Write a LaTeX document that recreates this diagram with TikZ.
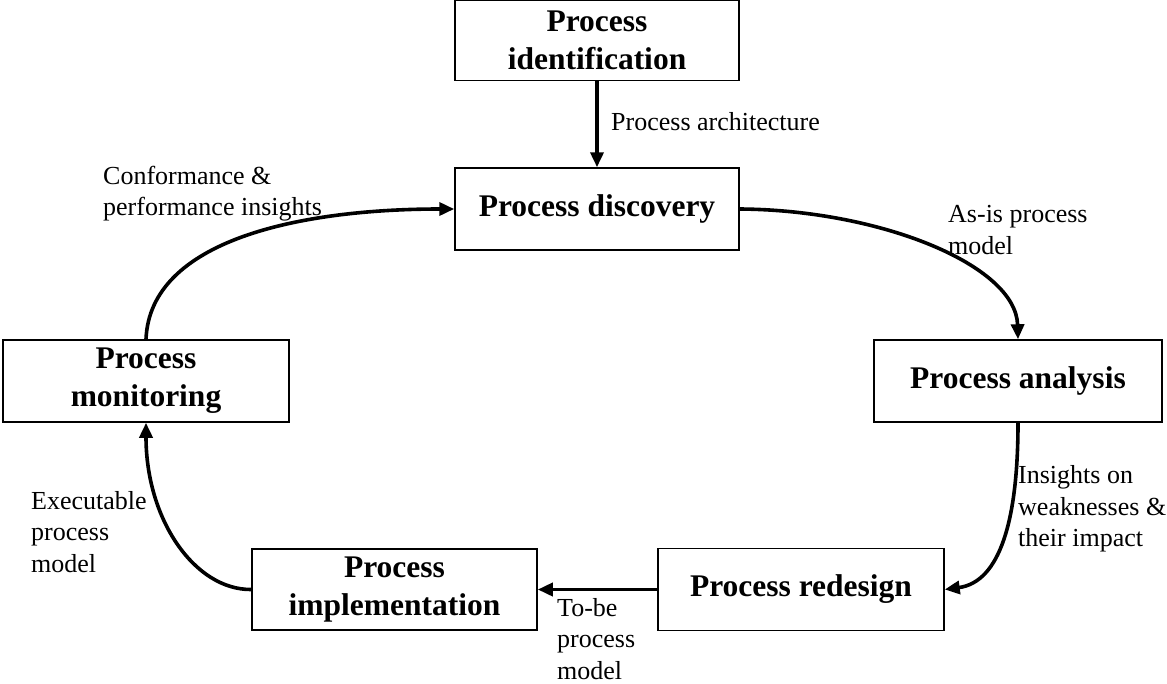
\documentclass[tikz,border=0pt]{standalone}
\usepackage{fontspec}
\setmainfont{Liberation Serif}
\usetikzlibrary{arrows.meta}
\begin{document}
\begin{tikzpicture}[x=1pt,y=-1pt,
  stage/.style={draw,line width=1.5pt,inner sep=0pt,align=center,
    font=\fontsize{31.5}{38}\selectfont\bfseries},
  flow/.style={line width=3.6pt,-{Triangle[length=15pt,width=13pt]}},
  note/.style={inner sep=0pt,align=left,anchor=west,
    font=\fontsize{26}{31.5}\selectfont}]
\useasboundingbox (0,0) rectangle (1167,683);

% process stages
\node[stage,minimum width=284pt,minimum height=80pt] (ident) at (597,40.5) {Process\\identification};
\node[stage,minimum width=284pt,minimum height=82pt] (disc) at (597,209) {Process discovery};
\node[stage,minimum width=288pt,minimum height=82pt] (anal) at (1018,381) {Process analysis};
\node[stage,minimum width=286pt,minimum height=82pt] (redes) at (801,589.5) {Process redesign};
\node[stage,minimum width=285pt,minimum height=81pt] (impl) at (394.5,589.5) {Process\\implementation};
\node[stage,minimum width=286pt,minimum height=82pt] (mon) at (146,381) {Process\\monitoring};

% connectors
\draw[flow] (ident) -- (disc);
\draw[flow] (disc.east) .. controls (880,210) and (1016,265) .. (anal.north);
\draw[flow] (anal.south) .. controls (1018,520) and (1000,582) .. (redes.east);
\draw[flow] (redes.west) -- (impl.east);
\draw[flow] (impl.west) .. controls (195,590) and (146,520) .. (mon.south);
\draw[flow] (mon.north) .. controls (150,240) and (300,209) .. (disc.west);

% connector labels
\node[note] (l1) at (611,122) {Process architecture};
\node[note] (l2) at (948,230) {As-is process\\model};
\node[note] (l3) at (1018,509) {Insights on\\weaknesses \&\\their impact};
\node[note] (l4) at (557,639) {To-be\\process\\model};
\node[note] (l5) at (31,532) {Executable\\process\\model};
\node[note] (l6) at (103,193.5) {Conformance \&\\performance insights};
\end{tikzpicture}
\end{document}
